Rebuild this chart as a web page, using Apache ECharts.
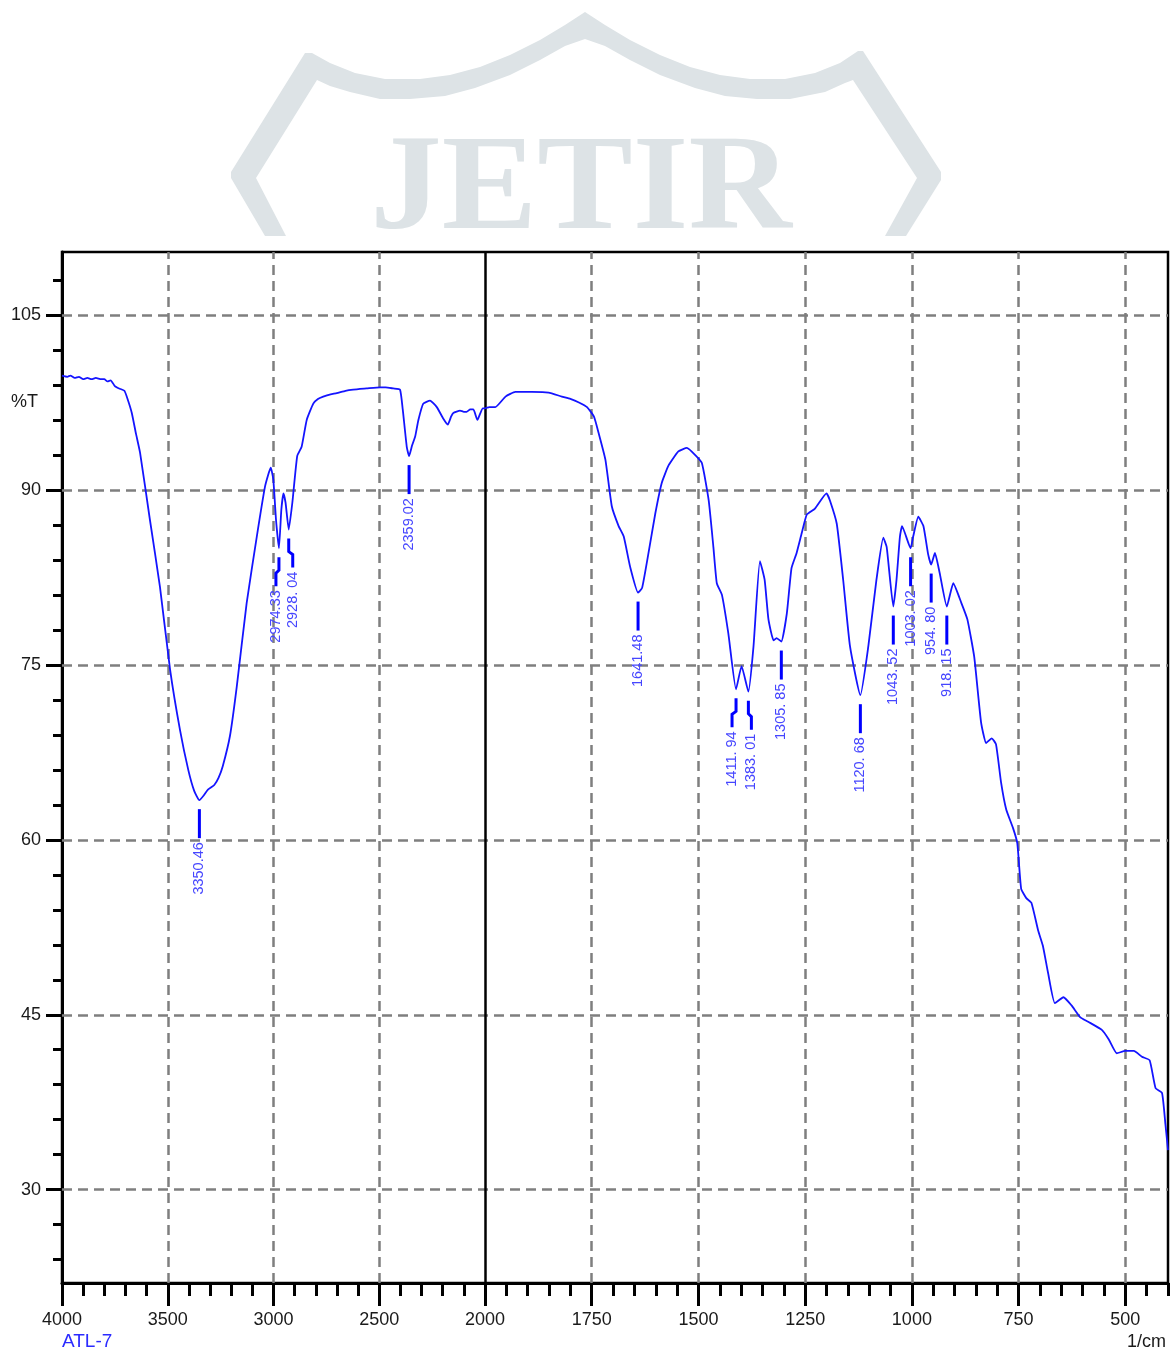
<!DOCTYPE html>
<html>
<head>
<meta charset="utf-8">
<script src="https://cdn.jsdelivr.net/npm/echarts@6/dist/echarts.min.js"></script>
<style>
html,body{margin:0;padding:0;background:#fff;}
#chart{width:1175px;height:1353px;}
</style>
</head>
<body>
<div id="chart"></div>
<script>
// ---- data (wavenumber in 1/cm, transmittance in %T) ----
const wavenumbers = [
4000,3975,3960,3940,3920,3900,3880,3860,3840,3815,3800,3785,3770,3750,3730,3705,3690,3670,3650,3631,
3584,3537,3489,3442,3403,3375,3350.46,3330,3310,3280,3260,3240,3206,3174,3127,3079,3040,3013,3001,2988,
2974.33,2963,2953,2943,2928.04,2911,2888,2867,2843,2812,2790,2765,2730,2701,2660,2623,2560,2496,2470,2434,
2402,2389,2370,2359.02,2345,2330,2315,2292,2260,2228,2197,2176,2160,2150,2118,2100,2087,2070,2055,2036,
2011,2000,
1990,1976,1952,1929,1890,1851,1820,1800,1780,1761,1745,1734,1718,1703,1687,1675,1660,1641.48,1632,1617,
1601,1586,1570,1547,1527,1508,1492,1476,1465,1457,1445,1430,1411.94,1399,1383.01,1371,1356,1345,1336,1324,
1317,1305.85,1293,1282,1270,1258,1246,1227,1200,1192,1176,1161,1145,1120.68,1102,1083,1067,1059,1043.52,1036,
1028,1023,1003.02,997,985,973,962,954.80,946,935,918.15,903,884,870,854,838,826,813,803,791,
779,763,753,744,732,720,704,693,681,665,645,626,606,587,555,539,520,500,480,461,
443,429,414,406,400
];
const transmittance = [
99.8,99.7,99.8,99.6,99.7,99.5,99.6,99.5,99.6,99.5,99.5,99.3,99.4,98.9,98.7,98.5,97.8,96.6,94.8,93.2,
87.4,81.7,74.6,69.4,66.0,64.2,63.4,63.8,64.3,64.7,65.3,66.3,68.9,73.1,80.3,86.0,90.3,91.9,90.9,87.4,
85.0,88.3,89.7,88.9,86.6,88.9,92.9,93.7,96.0,97.4,97.8,98.0,98.2,98.3,98.5,98.6,98.7,98.8,98.8,98.7,
98.6,96.9,93.7,92.9,93.8,94.6,96.0,97.4,97.65,97.1,96.1,95.6,96.3,96.6,96.8,96.7,96.7,96.9,96.9,96.0,
97.0,97.0,
97.1,97.1,98.0,98.4,98.4,98.35,98.0,97.8,97.5,97.1,96.3,94.9,92.6,88.6,86.9,86.0,83.4,81.2,81.6,84.6,
88.0,90.6,92.1,93.3,93.6,93.0,92.3,89.1,85.1,82.0,81.0,77.7,72.9,74.9,72.7,76.6,83.9,82.3,78.9,77.1,
77.3,77.0,79.4,83.3,84.6,86.3,87.9,88.4,89.7,89.1,87.1,82.3,76.6,72.4,76.6,82.3,85.9,85.1,80.0,82.3,
86.0,86.9,85.0,86.0,87.7,86.9,84.5,83.6,84.6,82.9,80.0,82.0,80.3,78.9,75.7,70.1,68.3,68.7,68.2,64.9,
62.6,61.0,59.7,55.8,55.0,54.6,52.2,50.9,48.6,46.0,46.5,45.8,44.8,44.4,43.7,42.9,41.7,41.9,41.9,41.4,
41.1,38.7,38.3,35.6,33.4
];
const peakWavenumbers = [3350.46,2974.33,2928.04,2359.02,1641.48,1411.94,1383.01,1305.85,1120.68,1043.52,1003.02,954.80,918.15];
const peakLabels = ['3350.46','2974.33','2928. 04','2359.02','1641.48','1411. 94','1383. 01','1305. 85','1120. 68','1043. 52','1003. 02','954. 80','918. 15'];
const xTickLabels = [4000,3500,3000,2500,2000,1750,1500,1250,1000,750,500];
const xGridWn = [3500,3000,2500,1750,1500,1250,1000,750,500];
const yTickLabels = [30,45,60,75,90,105];
const sampleName = 'ATL-7';

// ---- split wavenumber scale: 4000-2000 compressed (about 2:1), 2000-400 linear ----
const LEFT_FACTOR = 0.4955;               // compression of the 4000-2000 half
const BREAK_T = 2000 * LEFT_FACTOR;       // axis position of 2000 1/cm
const MAX_T = BREAK_T + 1600;             // axis position of 400 1/cm
function toT(wn){ return wn >= 2000 ? (4000 - wn) * LEFT_FACTOR : BREAK_T + (2000 - wn); }
function fromT(t){ return t <= BREAK_T + 1e-6 ? 4000 - t / LEFT_FACTOR : 2000 - (t - BREAK_T); }

const spectrum = wavenumbers.map((w, i) => [toT(w), transmittance[i]]);
const peaks = peakWavenumbers.map(w => {
  const i = wavenumbers.indexOf(w);
  return [toT(w), transmittance[i]];
});

const xMajor = xTickLabels.map(toT);
const xMinor = [];
for (let w = 3900; w > 2000; w -= 100) if (w % 500 !== 0) xMinor.push(toT(w));
for (let w = 1950; w >= 400; w -= 50) if (w % 250 !== 0) xMinor.push(toT(w));
const yMinor = [];
for (let v = 24; v <= 108; v += 3) if (yTickLabels.indexOf(v) < 0) yMinor.push(v);

// small horizontal shifts of crowded peak labels (style only)
const labelShift = {'2974.33': -3, '2928.04': 4, '1411.94': -4, '1383.01': 3};

const chart = echarts.init(document.getElementById('chart'), null, {renderer: 'canvas'});

const tickFont = {fontFamily: '"Liberation Sans", Arial, sans-serif', fontSize: 18, color: '#1a1a1a'};

// watermark polygon (decoration)
const wmOuter = [[265,236],[231,178],[231,172],[305,53],[312,53],[330,63],[355,73],[385,79],[420,79],[450,75],[480,67],[510,55],[540,40],[565,25],[585,12],[605,25],[630,40],[660,55],[690,67],[720,75],[750,79],[785,79],[815,73],[840,63],[858,51],[863,51],[941,172],[941,180],[906,236]];
const wmInner = [[885,236],[917,178],[853,80],[845,83],[825,92],[790,99],[757,99],[725,96],[695,88],[660,75],[630,60],[605,46],[585,39],[565,46],[540,60],[510,75],[475,88],[445,96],[410,99],[380,99],[350,92],[330,86],[317,80],[256,178],[286,236]];

const option = {
  animation: false,
  backgroundColor: '#fff',
  grid: {left: 62, right: 7, top: 252, bottom: 70, show: true, borderColor: '#000', borderWidth: 2.5, backgroundColor: 'transparent'},
  xAxis: [{
    type: 'value', min: 0, max: MAX_T, position: 'bottom',
    axisLine: {show: true, lineStyle: {color: '#000', width: 3}},
    axisTick: {show: true, customValues: xMajor, length: 23, inside: false, lineStyle: {color: '#000', width: 3}},
    axisLabel: {show: true, customValues: xMajor, margin: 28, formatter: v => String(Math.round(fromT(v))), ...tickFont},
    splitLine: {show: false}
  }, {
    type: 'value', min: 0, max: MAX_T, position: 'bottom',
    axisLine: {show: false},
    axisTick: {show: true, customValues: xMinor, length: 13, inside: false, lineStyle: {color: '#000', width: 3}},
    axisLabel: {show: false},
    splitLine: {show: false}
  }],
  yAxis: [{
    type: 'value', min: 22, max: 110.4, position: 'left',
    axisLine: {show: true, lineStyle: {color: '#000', width: 3}},
    axisTick: {show: true, customValues: yTickLabels, length: 16, inside: false, lineStyle: {color: '#000', width: 3}},
    axisLabel: {show: true, customValues: yTickLabels, margin: 21, ...tickFont},
    splitLine: {show: false}
  }, {
    type: 'value', min: 22, max: 110.4, position: 'left',
    axisLine: {show: false},
    axisTick: {show: true, customValues: yMinor, length: 9, inside: false, lineStyle: {color: '#000', width: 3}},
    axisLabel: {show: false},
    splitLine: {show: false}
  }],
  series: [{
    type: 'line',
    name: sampleName,
    data: spectrum,
    xAxisIndex: 0, yAxisIndex: 0,
    showSymbol: false,
    smooth: 0.15,
    z: 10,
    lineStyle: {color: '#1414ff', width: 1.8},
    markLine: {
      silent: true, symbol: 'none', z: 1,
      label: {show: false},
      lineStyle: {color: '#7f7f7f', type: [10, 6], width: 2.5},
      data: yTickLabels.map(v => ({yAxis: v}))
        .concat(xGridWn.map(w => ({xAxis: toT(w)})))
        .concat([{xAxis: BREAK_T, lineStyle: {color: '#000', type: 'solid', width: 2.5}}])
    }
  }, {
    type: 'custom',
    data: peaks,
    xAxisIndex: 0, yAxisIndex: 0,
    z: 11,
    silent: true,
    renderItem: function(params, api){
      const p = api.coord([api.value(0), api.value(1)]);
      const lbl = peakLabels[params.dataIndex];
      const dx = labelShift[String(peakWavenumbers[params.dataIndex])] || 0;
      const x0 = p[0], x1 = p[0] + dx, y = p[1];
      return {type: 'group', children: [
        {type: 'polyline', shape: {points: [[x0, y + 9], [x0, y + 22], [x1, y + 25], [x1, y + 38]]}, style: {stroke: '#0000ff', lineWidth: 3, fill: null}},
        {type: 'text', x: x1, y: y + 42, rotation: Math.PI / 2,
         style: {text: lbl, fill: '#4646ff', font: '14.5px "Liberation Sans", Arial, sans-serif', align: 'right', verticalAlign: 'middle'}}
      ]};
    }
  }],
  graphic: [
    {type: 'polygon', shape: {points: wmOuter.concat(wmInner)}, style: {fill: '#dde3e6'}, z: 0, silent: true},
    {type: 'text', x: 581, y: 193, scaleX: 1.06, style: {text: 'JETIR', fill: '#dde3e6', font: 'bold 135px "Liberation Serif", "DejaVu Serif", serif', align: 'center', verticalAlign: 'middle'}, z: 0, silent: true},
    {type: 'text', left: 11, top: 393, style: {text: '%T', fill: '#1a1a1a', font: '18px "Liberation Sans", Arial, sans-serif'}},
    {type: 'text', left: 62, top: 1332, style: {text: sampleName, fill: '#2b2bff', font: '19px "Liberation Sans", Arial, sans-serif'}},
    {type: 'text', left: 1127, top: 1333, style: {text: '1/cm', fill: '#1a1a1a', font: '18px "Liberation Sans", Arial, sans-serif'}}
  ]
};
chart.setOption(option);
</script>
</body>
</html>
